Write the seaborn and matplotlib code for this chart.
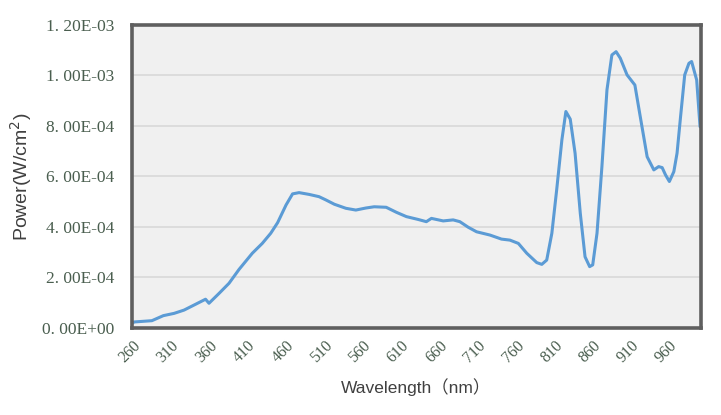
import matplotlib
matplotlib.use("Agg")
import matplotlib.pyplot as plt
import seaborn as sns
import pandas as pd

wavelength = [260, 262, 285, 300, 314, 327, 342, 355, 359.5, 372.6, 385.6, 398.7, 416, 429, 440, 449,
              460, 468.5, 477, 490, 503, 512, 523, 538, 551, 564, 575, 590.6, 604, 617, 632, 643,
              649.6, 665, 678, 686.7, 697.6, 708.5, 726, 741, 752, 763, 774, 787, 793.6, 800,
              806.7, 813, 819.8, 825, 830.7, 837, 843.8, 850, 856, 860, 865.6, 872, 878.6, 885,
              890.5, 896, 904.8, 915, 922, 931, 939.7, 946, 950.6, 955, 960, 965.8, 970, 974.6,
              980, 985.5, 989, 995.6, 1000]
power = [2.0e-5, 2.4e-5, 2.9e-5, 4.9e-5, 5.8e-5, 7.1e-5, 9.4e-5, 1.14e-4, 9.8e-5, 1.37e-4, 1.77e-4,
         2.32e-4, 2.96e-4, 3.35e-4, 3.75e-4, 4.17e-4, 4.87e-4, 5.31e-4, 5.36e-4, 5.29e-4, 5.20e-4,
         5.07e-4, 4.90e-4, 4.74e-4, 4.67e-4, 4.75e-4, 4.80e-4, 4.78e-4, 4.58e-4, 4.41e-4, 4.30e-4,
         4.21e-4, 4.34e-4, 4.24e-4, 4.28e-4, 4.21e-4, 3.99e-4, 3.81e-4, 3.68e-4, 3.52e-4, 3.48e-4,
         3.35e-4, 2.96e-4, 2.59e-4, 2.52e-4, 2.69e-4, 3.75e-4, 5.47e-4, 7.45e-4, 8.57e-4, 8.27e-4,
         6.92e-4, 4.54e-4, 2.82e-4, 2.43e-4, 2.50e-4, 3.75e-4, 6.39e-4, 9.43e-4, 1.081e-3, 1.094e-3,
         1.068e-3, 1.002e-3, 9.62e-4, 8.37e-4, 6.78e-4, 6.26e-4, 6.39e-4, 6.35e-4, 6.06e-4, 5.80e-4,
         6.19e-4, 6.92e-4, 8.37e-4, 1.002e-3, 1.048e-3, 1.055e-3, 9.82e-4, 7.97e-4]
x_ticks = [260, 310, 360, 410, 460, 510, 560, 610, 660, 710, 760, 810, 860, 910, 960]
y_ticks = [0, 2e-4, 4e-4, 6e-4, 8e-4, 1.0e-3, 1.2e-3]
y_tick_labels = ["0. 00E+00", "2. 00E-04", "4. 00E-04", "6. 00E-04", "8. 00E-04", "1. 00E-03", "1. 20E-03"]

df = pd.DataFrame({"wavelength": wavelength, "power": power})

sns.set_theme(style="white")
fig = plt.figure(figsize=(7.21, 4.15), dpi=100)
ax = fig.add_axes([0.183, 0.2096, 0.789, 0.7304])
ax.set_facecolor("#f0f0f0")

sns.lineplot(data=df, x="wavelength", y="power", sort=False, color="#5b9bd5",
             linewidth=2.2, ax=ax)

ax.set_xlim(259, 1001)
ax.set_ylim(0, 1.2e-3)
ax.set_yticks(y_ticks)
ax.set_yticklabels(y_tick_labels)
ax.set_xticks(x_ticks)
ax.set_xticklabels([str(t) for t in x_ticks], rotation=45, ha="right", rotation_mode="anchor")
ax.tick_params(axis="x", length=0, pad=7)
ax.tick_params(axis="y", length=0, pad=13)
for lab in ax.get_yticklabels():
    lab.set_family("Liberation Serif")
    lab.set_fontsize(12.5)
    lab.set_color("#4a5e4f")
for lab in ax.get_xticklabels():
    lab.set_family("Liberation Serif")
    lab.set_fontsize(11.5)
    lab.set_color("#4a5e4f")

ax.yaxis.grid(True, color="#d9d9d9", linewidth=1.2)
ax.xaxis.grid(False)
ax.set_axisbelow(True)
for s in ax.spines.values():
    s.set_visible(True)
    s.set_color("#5f5f5f")
    s.set_linewidth(2.6)

ax.set_ylabel("Power(W/cm$^2$)", family="Liberation Sans", fontsize=14, color="#404040")
ax.yaxis.set_label_coords(-0.172, 0.5)
ax.set_xlabel("Wavelength（nm）", family=["Liberation Sans", "Noto Sans CJK SC"], fontsize=12.5,
              color="#404040", labelpad=9)

fig.savefig("out.png", dpi=100)
